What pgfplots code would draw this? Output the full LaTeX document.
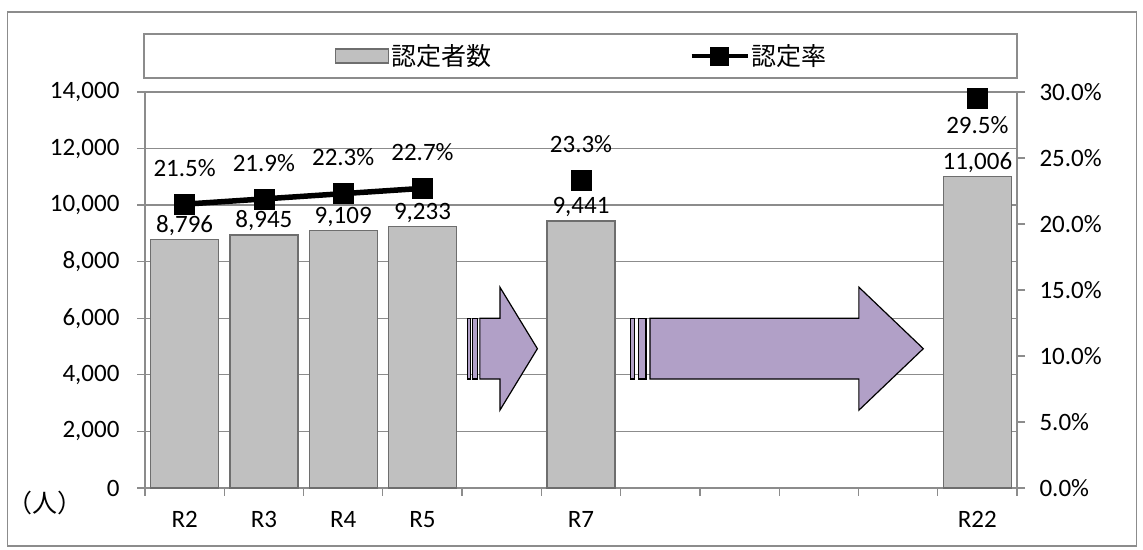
\documentclass[border=0pt]{standalone}
\usepackage{pgfplots}
\usepackage{pgfplotstable}
\pgfplotsset{compat=1.18}
\usepackage{fontspec}
\setmainfont{Carlito}
\newfontfamily\cjk{Noto Sans CJK JP}
\definecolor{barfill}{HTML}{C0C0C0}
\definecolor{baredge}{HTML}{6E6E6E}
\definecolor{gridgray}{HTML}{8C8C8C}
\definecolor{arrowfill}{HTML}{B1A0C7}
\newcommand{\lblfont}{\fontsize{25bp}{30bp}\selectfont}

% number of certified persons (position, value)
\pgfplotstableread{
x n
0 8796
1 8945
2 9109
3 9233
5 9441
10 11006
}\countdata
% certification rate in percent
\pgfplotstableread{
x r
0 21.5
1 21.9
2 22.3
3 22.7
4 nan
5 23.3
}\ratedata
\pgfplotstableread{
x r
10 29.5
}\ratelast

\pgfplotsset{
  common/.style={
    at={(145bp,62bp)}, anchor=south west,
    scale only axis, width=872bp, height=396bp,
    xmin=-0.5, xmax=10.5,
    /pgf/number format/assume math mode=true,
    /pgf/number format/1000 sep={,},
    ticklabel style={font=\lblfont, text=black},
    tick align=outside,
    major tick length=8bp,
    tick style={gridgray, line width=1.3bp},
    axis line style={gridgray, line width=1.3bp, -},
    clip=false,
  }
}

\begin{document}
\begin{tikzpicture}[x=1bp,y=1bp]
\path[use as bounding box] (0,0) rectangle (1143,550);
\draw[gridgray, line width=1.5bp] (7.5,4) rectangle (1136.5,538);
% frame around the legend
\draw[gridgray, line width=1.5bp] (144,472) rectangle (1017,516);
\node[font=\lblfont\cjk] at (45,47) {（人）};

\begin{axis}[
  common,
  ymin=0, ymax=14000,
  ytick={0,2000,...,14000},
  scaled y ticks=false,
  yticklabel style={xshift=-14bp},
  ymajorgrids,
  grid style={gridgray, line width=1.3bp},
  axis x line*=bottom, axis y line*=left,
  xtick={-0.5,0.5,...,10.5},
  xticklabels={},
  extra x ticks={0,...,10},
  extra x tick labels={R2,R3,R4,R5,,R7,,,,,R22},
  extra x tick style={major tick length=0pt, grid=none,
    xticklabel style={yshift=-20bp}},
]
\addplot[ybar, bar width=0.857, fill=barfill, draw=baredge, line width=1.3bp,
  nodes near coords={\pgfmathprintnumber{\pgfplotspointmeta}},
  nodes near coords style={font=\lblfont, text=black, anchor=south}]
  table[x=x, y=n]{\countdata};

% block arrows between the periods
\draw[fill=arrowfill, line width=1.2bp]
  (axis cs:3.724,3850) -- (axis cs:3.977,3850) -- (axis cs:3.977,2750)
  -- (axis cs:4.450,4925) -- (axis cs:3.977,7100) -- (axis cs:3.977,6000)
  -- (axis cs:3.724,6000) -- cycle;
\draw[fill=arrowfill, line width=1.2bp] (axis cs:3.573,3850) rectangle (axis cs:3.603,6000);
\draw[fill=arrowfill, line width=1.2bp] (axis cs:3.633,3850) rectangle (axis cs:3.694,6000);

\draw[fill=arrowfill, line width=1.2bp]
  (axis cs:5.870,3850) -- (axis cs:8.505,3850) -- (axis cs:8.505,2750)
  -- (axis cs:9.318,4925) -- (axis cs:8.505,7100) -- (axis cs:8.505,6000)
  -- (axis cs:5.870,6000) -- cycle;
\draw[fill=arrowfill, line width=1.2bp] (axis cs:5.624,3850) rectangle (axis cs:5.673,6000);
\draw[fill=arrowfill, line width=1.2bp] (axis cs:5.722,3850) rectangle (axis cs:5.820,6000);
\end{axis}

\begin{axis}[
  common,
  ymin=0, ymax=30,
  ytick={0,5,...,30},
  yticklabel={\pgfmathprintnumber[fixed,fixed zerofill,precision=1]{\tick}\%},
  yticklabel style={xshift=11bp},
  axis y line*=right, axis x line=none,
  legend columns=2,
  legend style={at={(0.501,1.0909)}, anchor=center, draw=none, fill=none,
    font=\lblfont\cjk,
    /tikz/every even column/.append style={column sep=196bp}},
]
\addlegendimage{legend image code/.code={
  \draw[fill=barfill, draw=baredge, line width=1.3bp] (0bp,-7bp) rectangle (53bp,7bp);}}
\addlegendentry{認定者数}
\addplot[black, line width=5.5bp, mark=square*, mark size=10bp,
  mark options={solid, line width=0.5bp}, unbounded coords=jump,
  legend image code/.code={
    \draw[black, line width=4.5bp, mark=square*, mark size=9bp,
      mark options={solid, line width=0.5bp}, mark repeat=2, mark phase=2]
      plot coordinates {(0bp,0bp) (28bp,0bp) (56bp,0bp)};},
  nodes near coords={\pgfmathprintnumber[fixed,fixed zerofill,precision=1]{\pgfplotspointmeta}\%},
  nodes near coords style={font=\lblfont, text=black, anchor=south, yshift=24bp}]
  table[x=x, y=r]{\ratedata};
\addlegendentry{認定率}
\addplot[forget plot, only marks, black, mark=square*, mark size=10bp,
  mark options={solid, line width=0.5bp},
  nodes near coords={\pgfmathprintnumber[fixed,fixed zerofill,precision=1]{\pgfplotspointmeta}\%},
  nodes near coords style={font=\lblfont, text=black, anchor=north, yshift=-14bp}]
  table[x=x, y=r]{\ratelast};
\end{axis}
\end{tikzpicture}
\end{document}
